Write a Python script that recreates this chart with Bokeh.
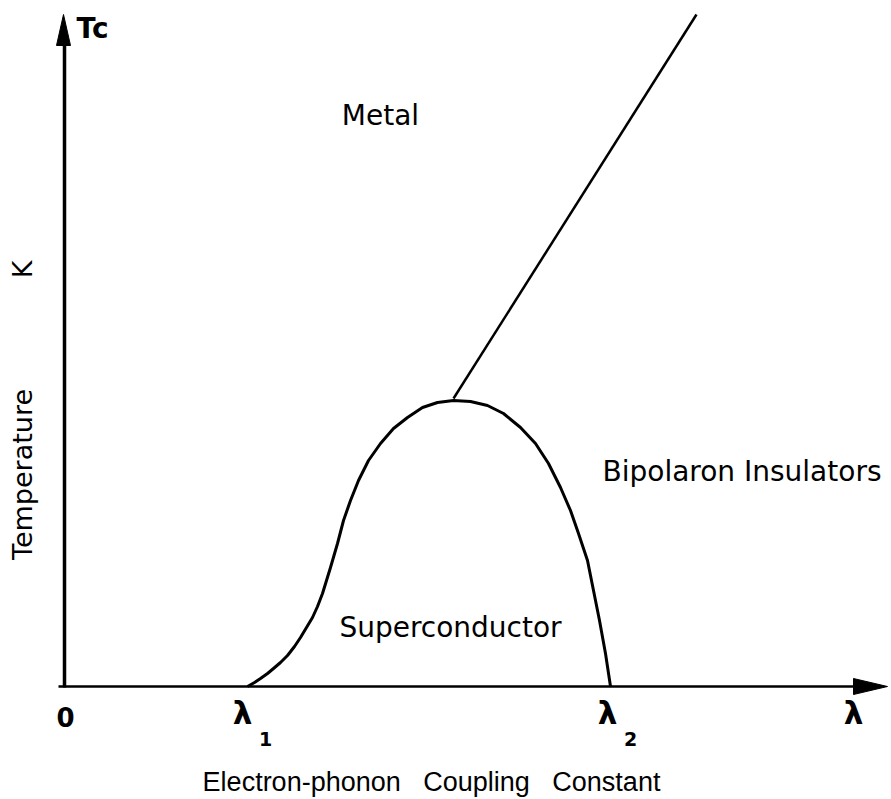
from bokeh.plotting import figure
from bokeh.models import Range1d
from bokeh.embed import file_html
from bokeh.resources import INLINE
from bokeh.core.properties import value

# ---- data (coupling constant lambda vs temperature, arbitrary units) ----
dome_lam = [183, 190, 196, 203, 209, 216, 223, 230, 236, 242, 248, 253, 258, 262, 266, 273,
            279, 286, 294, 304, 316, 329, 343, 358, 373, 389, 406, 423, 439, 456, 471, 484,
            496, 506, 514, 523, 529, 535, 541, 546]
dome_T = [0, 4, 8, 13, 18, 24, 31, 40, 49, 59, 69, 80, 93, 106, 119, 143,
          166, 186, 206, 226, 243, 258, 269, 279, 284, 286, 285, 281, 273, 259, 243, 223,
          199, 176, 153, 126, 96, 66, 33, 0]
crossover_lam = [389, 632]
crossover_T = [288, 672]

lam_max = 823      # end of the lambda axis (arrow tip)
T_max = 672        # end of the temperature axis (arrow tip)

region_labels = ["Metal", "Bipolaron Insulators", "Superconductor"]
region_x = [316, 538, 386]
region_y = [571, 215, 59]

NB = "\u00a0"
x_title = "Electron-phonon" + NB * 3 + "Coupling" + NB * 3 + "Constant"

W, H = 891, 799
p = figure(width=W, height=H, output_backend="svg", toolbar_location=None,
           x_range=Range1d(-64, 827), y_range=Range1d(-113, 686),
           x_axis_type=None, y_axis_type=None, min_border=0)
p.outline_line_color = None
p.grid.visible = False
p.background_fill_color = "white"

ink = "black"
# axes
p.line([-6, lam_max - 25], [0, 0], line_color=ink, line_width=2.5)
p.line([0, 0], [-1, T_max - 20], line_color=ink, line_width=3.5)
# arrowheads
p.patch([lam_max, lam_max - 34, lam_max - 34], [0, 8, -8], fill_color=ink, line_color=ink)
p.patch([-1, -8, 6], [T_max, T_max - 31, T_max - 31], fill_color=ink, line_color=ink)

# phase boundaries
p.line(dome_lam, dome_T, line_color=ink, line_width=3, line_join="round")
p.line(crossover_lam, crossover_T, line_color=ink, line_width=2.5)

font = value("DejaVu Sans")
# region labels
p.text(x=[region_x[0]], y=[region_y[0]], text=[region_labels[0]], text_font=font,
       text_font_size="28px", text_align="center", text_baseline="middle", text_color=ink)
p.text(x=[region_x[1]], y=[region_y[1]], text=[region_labels[1]], text_font=font,
       text_font_size="28px", text_align="left", text_baseline="middle", text_color=ink)
p.text(x=[region_x[2]], y=[region_y[2]], text=[region_labels[2]], text_font=font,
       text_font_size="28px", text_align="center", text_baseline="middle", text_color=ink)

# axis symbols
p.text(x=[28], y=[658], text=["Tc"], text_font=font, text_font_size="28px",
       text_font_style="bold", text_align="center", text_baseline="middle", text_color=ink)
p.text(x=[1], y=[-30], text=["0"], text_font=font, text_font_size="26px",
       text_font_style="bold", text_align="center", text_baseline="middle", text_color=ink)
p.text(x=[178, 543, 789], y=[-26, -26, -26], text=["λ", "λ", "λ"], text_font=font,
       text_font_size="31px", text_font_style="bold", text_align="center",
       text_baseline="middle", text_color=ink)
p.text(x=[201, 566], y=[-52, -52], text=["1", "2"], text_font=font,
       text_font_size="19px", text_font_style="bold", text_align="center",
       text_baseline="middle", text_color=ink)

# axis titles
p.text(x=[367], y=[-95], text=[x_title], text_font=value("Liberation Sans"),
       text_font_size="27px", text_align="center", text_baseline="middle", text_color=ink)
p.text(x=[-42], y=[212], text=["Temperature"], angle=1.5708, text_font=font,
       text_font_size="27px", text_align="center", text_baseline="middle", text_color=ink)
p.text(x=[-42], y=[417], text=["K"], angle=1.5708, text_font=font,
       text_font_size="27px", text_align="center", text_baseline="middle", text_color=ink)

open("out.html", "w").write(file_html(p, INLINE))
